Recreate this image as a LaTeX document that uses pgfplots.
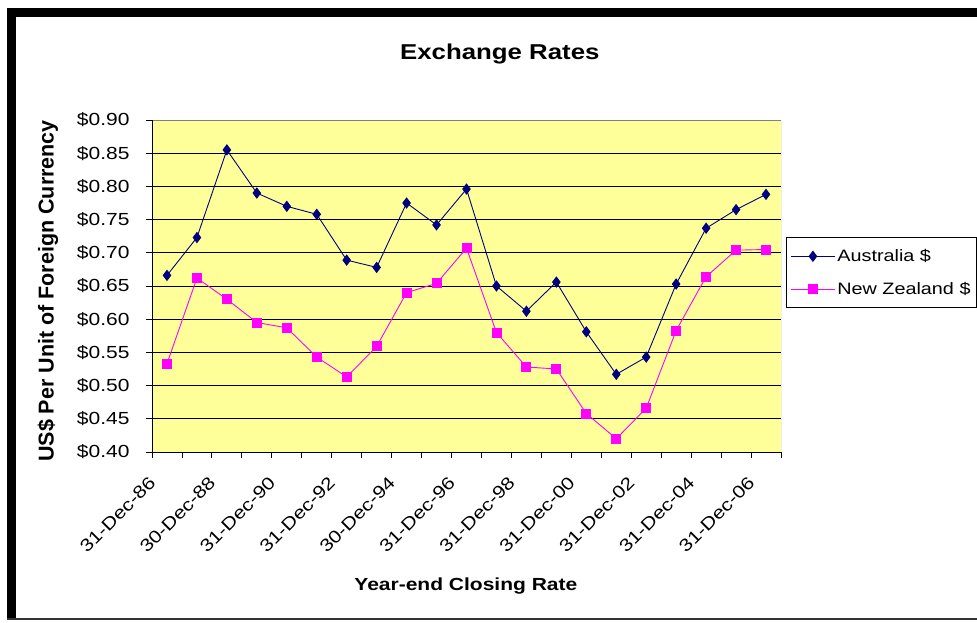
\documentclass[border=0pt]{standalone}
\usepackage{pgfplots}
\pgfplotsset{compat=1.18}
\usepackage{pgfplotstable}
\usepackage{fontspec}
\setmainfont{Liberation Sans}[FakeStretch=1.2]
\newfontfamily\ylabfont{Liberation Sans}
\definecolor{plotbg}{HTML}{FFFF99}
\definecolor{aus}{HTML}{000080}
\definecolor{nz}{HTML}{FF00FF}

\pgfplotstableread{
idx aus nz
0 0.666 0.533
1 0.723 0.662
2 0.855 0.630
3 0.790 0.595
4 0.770 0.587
5 0.758 0.543
6 0.689 0.513
7 0.678 0.559
8 0.775 0.640
9 0.742 0.654
10 0.796 0.707
11 0.650 0.580
12 0.612 0.528
13 0.656 0.525
14 0.581 0.458
15 0.517 0.420
16 0.543 0.466
17 0.653 0.583
18 0.737 0.664
19 0.765 0.704
20 0.788 0.705
}\ratesdata

\begin{document}
\begin{tikzpicture}[x=1pt,y=1pt]
\useasboundingbox (0,0) rectangle (977,622);
\fill[white] (0,0) rectangle (977,622);
\fill[black] (7,605) rectangle (990,614);
\fill[black] (7,2) rectangle (16,614);
\fill[black!80] (7,2) rectangle (990,4);
\begin{axis}[
  at={(152pt,170pt)}, anchor=south west,
  width=629pt, height=332pt, scale only axis,
  xmin=-0.5, xmax=20.5, ymin=0.40, ymax=0.90,
  axis background/.style={fill=plotbg},
  axis line style={draw=none},
  xtick pos=left, ytick pos=left,
  tick align=outside,
  major tick length=6pt,
  tick style={black, line width=0.9pt},
  xtick={-0.5,0.5,...,20.5},
  xticklabels={},
  extra x ticks={0,2,4,6,8,10,12,14,16,18,20},
  extra x tick labels={31-Dec-86,30-Dec-88,31-Dec-90,31-Dec-92,30-Dec-94,31-Dec-96,31-Dec-98,31-Dec-00,31-Dec-02,31-Dec-04,31-Dec-06},
  extra x tick style={major tick length=0pt,
    xticklabel style={rotate=45, anchor=north east, inner sep=0pt, xshift=-30pt, yshift=-3pt}},
  ytick={0.40,0.45,0.50,0.55,0.60,0.65,0.70,0.75,0.80,0.85,0.90},
  yticklabel={\$\pgfmathprintnumber[fixed,fixed zerofill,precision=2]{\tick}},
  yticklabel style={xshift=-13pt},
  /pgf/number format/assume math mode=true,
  ticklabel style={font=\fontsize{17.5}{20}\selectfont},
  ymajorgrids,
  grid style={black, line width=0.9pt},
  title={Exchange Rates},
  title style={font=\fontsize{21.5}{24}\selectfont\bfseries, at={(axis description cs:0.553,1.181)}, anchor=center},
  xlabel={Year-end Closing Rate},
  xlabel style={font=\fontsize{17.5}{20}\selectfont\bfseries, at={(axis description cs:0.499,-0.404)}, anchor=center},
  ylabel={US\$ Per Unit of Foreign Currency},
  ylabel style={font=\ylabfont\fontsize{21.5}{24}\selectfont\bfseries, at={(axis description cs:-0.1653,0.485)}, anchor=center},
  legend style={at={(axis description cs:1.008,0.6476)}, anchor=north west,
    draw=black, fill=white, line width=0.9pt,
    font=\fontsize{16.5}{19}\selectfont,
    inner xsep=4pt, inner ysep=10pt, row sep=15pt},
  legend cell align=left,
  legend image code/.code={\draw[mark repeat=2,mark phase=2,#1] plot coordinates {(0pt,0pt) (22pt,0pt) (44pt,0pt)};},
]
\addplot[color=aus, line width=0.9pt, mark=diamond*, mark size=5pt, mark options={fill=aus, draw=aus, solid}] table[x=idx, y=aus] {\ratesdata};
\addlegendentry{Australia \$}
\addplot[color=nz, line width=0.9pt, mark=square*, mark size=4.5pt, mark options={fill=nz, draw=nz, solid}] table[x=idx, y=nz] {\ratesdata};
\addlegendentry{New Zealand \$}
\draw[gray, line width=1pt] (rel axis cs:0,1) -- (rel axis cs:1,1) -- (rel axis cs:1,0);
\draw[black, line width=1pt] (rel axis cs:1,0) -- (rel axis cs:0,0) -- (rel axis cs:0,1);
\end{axis}
\end{tikzpicture}
\end{document}
